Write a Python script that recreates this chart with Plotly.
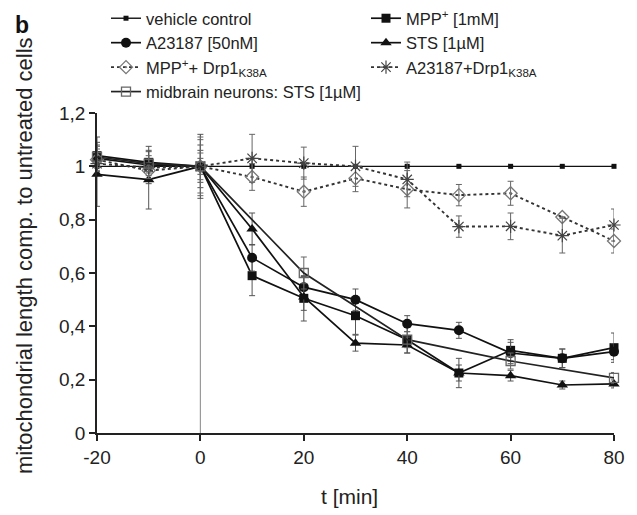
import plotly.graph_objects as go

T = [-20, -10, 0, 10, 20, 30, 40, 50, 60, 70, 80]

names = [
    "vehicle control",
    "MPP<sup>+</sup> [1mM]",
    "A23187 [50nM]",
    "STS [1µM]",
    "MPP<sup>+</sup>+ Drp1<sub>K38A</sub>",
    "A23187+Drp1<sub>K38A</sub>",
    "midbrain neurons: STS [1µM]",
]

vehicle = [1.00, 1.00, 1.00, 1.00, 1.00, 1.00, 1.00, 1.00, 1.00, 1.00, 1.00]
vehicle_err = [0.03, 0.02, 0.03, 0.0, 0.0, 0.0, 0.0, 0.0, 0.0, 0.0, 0.0]

mpp = [1.04, 1.015, 1.00, 0.59, 0.505, 0.44, 0.35, 0.225, 0.31, 0.28, 0.32]
mpp_err = [0.07, 0.04, 0.08, 0.075, 0.085, 0.07, 0.05, 0.055, 0.04, 0.035, 0.055]

a23 = [1.03, 1.005, 1.00, 0.657, 0.547, 0.50, 0.41, 0.385, 0.30, 0.28, 0.305]
a23_err = [0.05, 0.07, 0.12, 0.05, 0.04, 0.04, 0.03, 0.03, 0.04, 0.035, 0.03]

sts = [0.97, 0.95, 1.00, 0.765, 0.51, 0.337, 0.33, 0.225, 0.215, 0.18, 0.184]
sts_err = [0.12, 0.11, 0.06, 0.06, 0.05, 0.03, 0.03, 0.03, 0.02, 0.015, 0.015]

mpp_drp = [1.025, 0.984, 1.00, 0.96, 0.905, 0.955, 0.914, 0.892, 0.899, 0.81, 0.72]
mpp_drp_err = [0.04, 0.03, 0.10, 0.05, 0.055, 0.05, 0.07, 0.04, 0.045, 0.0, 0.045]

a23_drp = [1.01, 0.995, 1.00, 1.03, 1.012, 1.00, 0.951, 0.774, 0.775, 0.74, 0.78]
a23_drp_err = [0.03, 0.03, 0.05, 0.09, 0.06, 0.075, 0.065, 0.04, 0.05, 0.065, 0.06]

T_mid = [-20, -10, 0, 20, 40, 60, 80]
midbrain = [1.035, 1.01, 1.00, 0.60, 0.35, 0.27, 0.207]
midbrain_err = [0.04, 0.03, 0.11, 0.06, 0.03, 0.03, 0.02]

# treatment-start reference line
ref_x = [0, 0]
ref_y = [0, 1.12]

x_ticks = [-20, 0, 20, 40, 60, 80]
x_ticktext = ["-20", "0", "20", "40", "60", "80"]
y_ticks = [0, 0.2, 0.4, 0.6, 0.8, 1.0, 1.2]
y_ticktext = ["0", "0,2", "0,4", "0,6", "0,8", "1", "1,2"]

W, H = 637, 515
ML, MR, MT, MB = 97, 23, 113, 82
PW, PH = W - ML - MR, H - MT - MB


def px_x(p):
    return (p - ML) / PW


def px_y(p):
    return (H - MB - p) / PH


fig = go.Figure()

fig.add_trace(go.Scatter(x=ref_x, y=ref_y, mode="lines",
                         line=dict(color="#9a9a9a", width=1.2),
                         showlegend=False, hoverinfo="skip"))


def err(a, color="#555"):
    return dict(type="data", array=a, visible=True, thickness=1, width=3, color=color)


solid = dict(color="#111111", width=1.7)
dotted = dict(color="#333333", width=1.9, dash="dot")

fig.add_trace(go.Scatter(x=T, y=vehicle, name=names[0], mode="lines+markers",
                         line=dict(color="#111111", width=1.4),
                         marker=dict(symbol="square", size=5, color="#111"),
                         error_y=err(vehicle_err)))
fig.add_trace(go.Scatter(x=T, y=mpp, name=names[1], mode="lines+markers",
                         line=solid,
                         marker=dict(symbol="square", size=9, color="#111"),
                         error_y=err(mpp_err)))
fig.add_trace(go.Scatter(x=T, y=a23, name=names[2], mode="lines+markers",
                         line=solid,
                         marker=dict(symbol="circle", size=10, color="#111"),
                         error_y=err(a23_err)))
fig.add_trace(go.Scatter(x=T, y=sts, name=names[3], mode="lines+markers",
                         line=solid,
                         marker=dict(symbol="triangle-up", size=10, color="#111"),
                         error_y=err(sts_err)))
fig.add_trace(go.Scatter(x=T, y=mpp_drp, name=names[4], mode="lines+markers",
                         line=dotted,
                         marker=dict(symbol="diamond-open-dot", size=10, color="#777",
                                     line=dict(width=1.3)),
                         error_y=err(mpp_drp_err, "#666")))
fig.add_trace(go.Scatter(x=T, y=a23_drp, name=names[5], mode="lines+markers",
                         line=dotted,
                         marker=dict(symbol="asterisk-open", size=11, color="#444",
                                     line=dict(width=1.2, color="#444")),
                         error_y=err(a23_drp_err, "#666")))
fig.add_trace(go.Scatter(x=T_mid, y=midbrain, name=names[6], mode="lines+markers",
                         line=dict(color="#222", width=1.7),
                         marker=dict(symbol="square-open", size=9, color="#666",
                                     line=dict(width=1.3)),
                         error_y=err(midbrain_err, "#666")))

for tr in fig.data:
    tr.cliponaxis = False

font_family = "Liberation Sans, Arial, sans-serif"

fig.update_layout(
    width=W, height=H,
    margin=dict(l=ML, r=MR, t=MT, b=MB, autoexpand=False),
    paper_bgcolor="white", plot_bgcolor="white",
    font=dict(family=font_family, size=16.5, color="#222"),
    showlegend=True,
    legend=dict(orientation="h", x=px_x(106), y=px_y(1), xref="paper",
                yref="paper", yanchor="top", xanchor="left",
                entrywidth=215, entrywidthmode="pixels",
                font=dict(size=16.5, color="#222"),
                bgcolor="rgba(0,0,0,0)", itemwidth=30, traceorder="normal"),
    xaxis=dict(range=[-20, 80], tickvals=x_ticks, ticktext=x_ticktext,
               ticks="outside", ticklen=6,
               tickwidth=1.5, tickcolor="#222", showline=True, linecolor="#222",
               linewidth=1.8, showgrid=False, zeroline=False,
               title=dict(text=""),
               tickfont=dict(size=19)),
    yaxis=dict(range=[0, 1.2], tickvals=y_ticks, ticktext=y_ticktext,
               ticks="outside", ticklen=6,
               tickwidth=1.5, tickcolor="#222", showline=True, linecolor="#222",
               linewidth=1.8, showgrid=False, zeroline=False,
               title=dict(text=""),
               tickfont=dict(size=19)),
)

fig.add_annotation(text="t [min]", xref="paper", yref="paper",
                   x=px_x(349), y=px_y(496), showarrow=False,
                   font=dict(size=21, color="#222"),
                   xanchor="center", yanchor="middle")

fig.add_annotation(text="mitochondrial length comp. to untreated cells",
                   xref="paper", yref="paper", textangle=-90,
                   x=px_x(24), y=px_y(256), showarrow=False,
                   font=dict(size=22, color="#222"),
                   xanchor="center", yanchor="middle")

fig.add_annotation(text="<b>b</b>", xref="paper", yref="paper",
                   x=px_x(22), y=px_y(25),
                   showarrow=False, font=dict(size=23, color="#111"),
                   xanchor="center", yanchor="middle")

fig.write_html("out.html",
               config={"displayModeBar": False},
               post_script="document.body.style.margin='0';document.body.style.overflow='hidden';")
